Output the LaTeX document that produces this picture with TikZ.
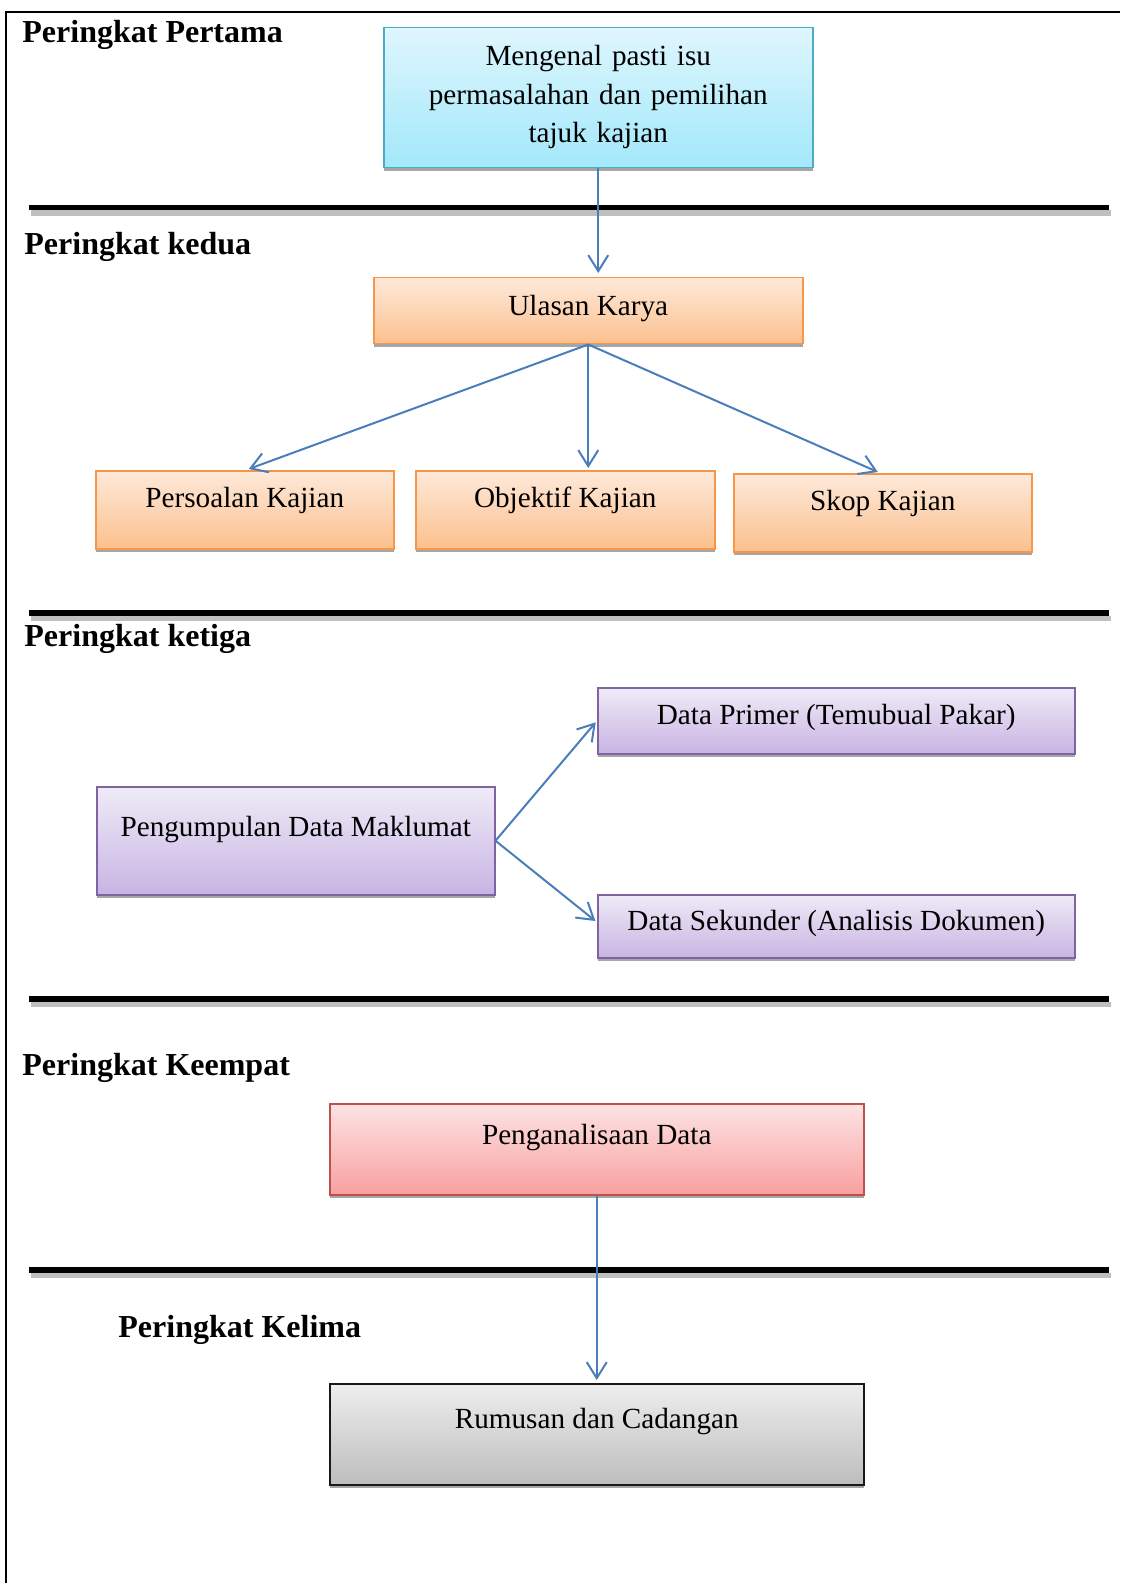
\documentclass[tikz,border=0pt]{standalone}
\usepackage{fontspec}
\setmainfont{Liberation Serif}
\usetikzlibrary{arrows.meta,shadows,calc}
\definecolor{arrowblue}{HTML}{4A7EBB}
\definecolor{cyantop}{HTML}{DFF6FD}
\definecolor{cyanbot}{HTML}{A2E8FB}
\definecolor{cyanline}{HTML}{4BACC6}
\definecolor{orangetop}{HTML}{FEE9DA}
\definecolor{orangebot}{HTML}{FBC08E}
\definecolor{orangeline}{HTML}{F79646}
\definecolor{purpletop}{HTML}{EFEBF7}
\definecolor{purplebot}{HTML}{C8B4E3}
\definecolor{purpleline}{HTML}{8064A2}
\definecolor{redtop}{HTML}{FDE3E3}
\definecolor{redbot}{HTML}{F8A0A0}
\definecolor{redline}{HTML}{C0504D}
\definecolor{graytop}{HTML}{EEEEEE}
\definecolor{graybot}{HTML}{BDBDBD}
\tikzset{
  box/.style={rectangle, anchor=north west, inner xsep=0pt, inner ysep=0pt,
    minimum height=0pt, line width=0.75pt,
    font=\fontsize{14.6}{19.2}\selectfont,
    drop shadow={shadow xshift=0.3pt, shadow yshift=-1.5pt, opacity=1, fill=black!35}},
  cyanbox/.style={box, draw=cyanline, top color=cyantop, bottom color=cyanbot},
  orangebox/.style={box, draw=orangeline, top color=orangetop, bottom color=orangebot},
  purplebox/.style={box, draw=purpleline, top color=purpletop, bottom color=purplebot},
  redbox/.style={box, draw=redline, top color=redtop, bottom color=redbot},
  graybox/.style={box, draw=black!90, top color=graytop, bottom color=graybot},
  heading/.style={anchor=base west, inner sep=0pt, font=\fontsize{16}{19}\selectfont\bfseries},
  conn/.style={draw=arrowblue, line width=1pt, -{Straight Barb[length=8pt,width=10pt,line width=1pt]}},
  sepline/.style={line width=2.8pt, black},
  sepshadow/.style={line width=2.8pt, black!25},
}
\begin{document}
\begin{tikzpicture}[x=0.5pt, y=-0.5pt]
\useasboundingbox (0,0) rectangle (1120,1583);
% frame
\draw[line width=0.75pt] (1120,12) -- (6,12) -- (6,1583);
% separators
\foreach \yy in {207.5,613,999,1270}{
  \draw[sepshadow] (31,\yy+5.5) -- (1111,\yy+5.5);
  \draw[sepline] (29,\yy) -- (1109,\yy);
}
% headings
\node[heading] (h1) at (22,43) {Peringkat Pertama};
\node[heading] (h2) at (24,255) {Peringkat kedua};
\node[heading] (h3) at (24,646) {Peringkat ketiga};
\node[heading] (h4) at (22,1075) {Peringkat Keempat};
\node[heading] (h5) at (118,1337) {Peringkat Kelima};
% boxes
\node[cyanbox, minimum width=214.5pt, text width=214.5pt, align=center,
  text height=19pt, text depth=51pt] (c1) at (383,27)
  {Mengenal pasti isu\\ permasalahan dan pemilihan\\ tajuk kajian};
\node[orangebox, minimum width=214.5pt, text height=19pt, text depth=14pt] (ul) at (373,277) {Ulasan Karya};
\node[orangebox, minimum width=149pt, text height=18.5pt, text depth=20.5pt] (pers) at (95,470) {Persoalan Kajian};
\node[orangebox, minimum width=149.5pt, text height=18.5pt, text depth=20.5pt] (obj) at (415,470) {Objektif Kajian};
\node[orangebox, minimum width=149pt, text height=18.5pt, text depth=20.5pt] (skop) at (733,473) {Skop Kajian};
\node[purplebox, minimum width=199pt, text height=25pt, text depth=29pt] (peng) at (96,786) {Pengumpulan Data Maklumat};
\node[purplebox, minimum width=238.5pt, text height=18.5pt, text depth=14.5pt] (dp) at (597,687) {Data Primer (Temubual Pakar)};
\node[purplebox, minimum width=238.5pt, text height=18pt, text depth=13.5pt] (ds) at (597,894) {Data Sekunder (Analisis Dokumen)};
\node[redbox, minimum width=267pt, text height=20.5pt, text depth=25pt] (pa) at (329,1103) {Penganalisaan Data};
\node[graybox, minimum width=267pt, text height=22.5pt, text depth=28pt] (rum) at (329,1383) {Rumusan dan Cadangan};
% connectors
\draw[conn, shorten >=2pt] (c1.south) -- (c1.south |- ul.north);
\draw[conn] (ul.south) -- ($(pers.north)+(4,-1)$);
\draw[conn, shorten >=1pt] (ul.south) -- (ul.south |- obj.north);
\draw[conn] (ul.south) -- ($(skop.north)+(-5,-1)$);
\draw[conn, shorten >=1pt] (peng.east) -- (dp.west);
\draw[conn, shorten >=1pt] (peng.east) -- ($(ds.west)+(0,-4)$);
\draw[conn, shorten >=1.5pt] (pa.south) -- (pa.south |- rum.north);
\end{tikzpicture}
\end{document}
